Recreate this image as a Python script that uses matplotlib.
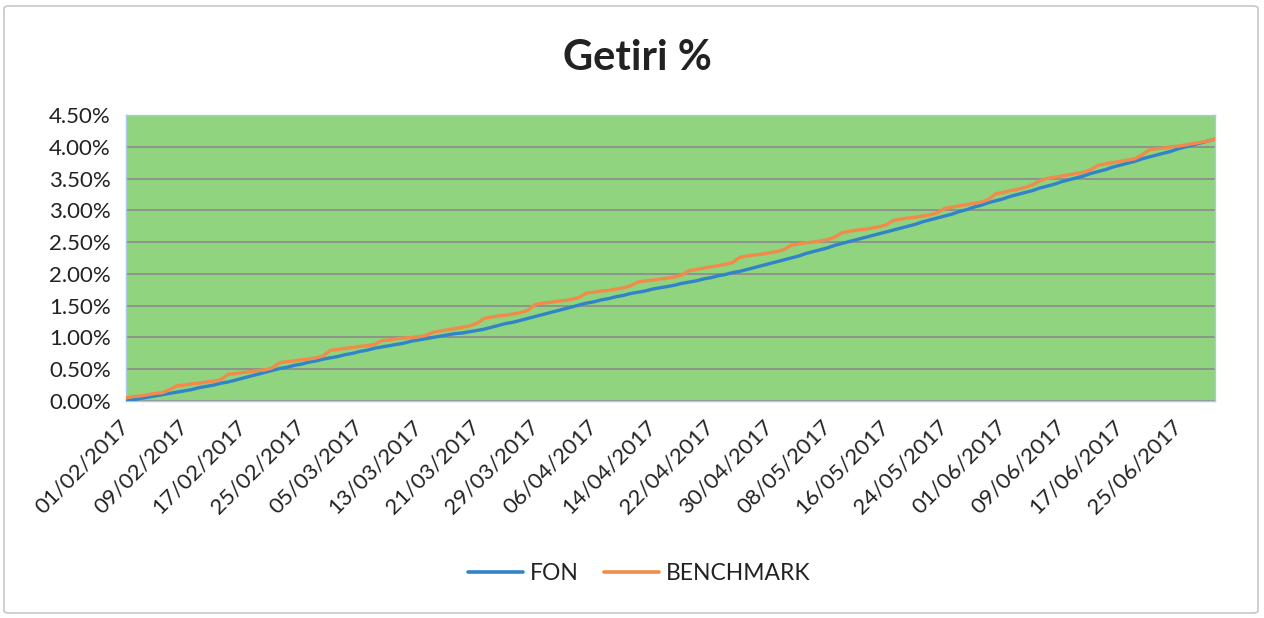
import datetime as dt
import matplotlib
matplotlib.use("Agg")
import matplotlib.pyplot as plt
from matplotlib.patches import FancyBboxPatch
from matplotlib.ticker import FuncFormatter, MultipleLocator
from matplotlib.transforms import ScaledTranslation

plt.rcParams['font.family'] = ['Lato', 'DejaVu Sans']

title = "Getiri %"
series_names = ["FON", "BENCHMARK"]
start_date = dt.date(2017, 2, 1)

# daily values in %, 01/02/2017 .. 30/06/2017
fon = [
    0.00, 0.02, 0.04, 0.06, 0.08, 0.10, 0.12,
    0.14, 0.16, 0.18, 0.21, 0.23, 0.25, 0.28,
    0.30, 0.33, 0.36, 0.39, 0.42, 0.45, 0.48,
    0.51, 0.53, 0.56, 0.58, 0.61, 0.63, 0.66,
    0.68, 0.70, 0.73, 0.75, 0.78, 0.80, 0.83,
    0.85, 0.87, 0.89, 0.91, 0.94, 0.96, 0.98,
    1.00, 1.02, 1.04, 1.06, 1.07, 1.09, 1.11,
    1.13, 1.16, 1.19, 1.22, 1.24, 1.27, 1.30,
    1.33, 1.36, 1.39, 1.42, 1.45, 1.48, 1.51,
    1.54, 1.56, 1.59, 1.61, 1.64, 1.66, 1.69,
    1.71, 1.73, 1.76, 1.78, 1.80, 1.82, 1.85,
    1.87, 1.89, 1.92, 1.94, 1.97, 1.99, 2.02,
    2.04, 2.07, 2.10, 2.13, 2.16, 2.19, 2.22,
    2.25, 2.28, 2.32, 2.35, 2.38, 2.41, 2.45,
    2.48, 2.51, 2.54, 2.57, 2.60, 2.63, 2.66,
    2.69, 2.72, 2.75, 2.78, 2.82, 2.85, 2.88,
    2.91, 2.94, 2.98, 3.01, 3.05, 3.08, 3.12,
    3.15, 3.18, 3.22, 3.25, 3.28, 3.31, 3.35,
    3.38, 3.41, 3.45, 3.48, 3.51, 3.54, 3.58,
    3.61, 3.64, 3.68, 3.71, 3.74, 3.77, 3.81,
    3.84, 3.87, 3.90, 3.93, 3.97, 4.00, 4.03,
    4.06, 4.09, 4.12,
]

benchmark = [
    0.05, 0.07, 0.08, 0.10, 0.12, 0.13, 0.18,
    0.24, 0.25, 0.27, 0.28, 0.30, 0.31, 0.34,
    0.42, 0.43, 0.45, 0.46, 0.48, 0.49, 0.52,
    0.60, 0.62, 0.63, 0.65, 0.66, 0.68, 0.71,
    0.80, 0.81, 0.83, 0.84, 0.86, 0.87, 0.89,
    0.95, 0.96, 0.98, 0.99, 1.00, 1.01, 1.03,
    1.08, 1.10, 1.12, 1.14, 1.16, 1.18, 1.22,
    1.30, 1.32, 1.34, 1.35, 1.37, 1.39, 1.43,
    1.52, 1.54, 1.55, 1.57, 1.58, 1.60, 1.63,
    1.70, 1.71, 1.73, 1.74, 1.76, 1.78, 1.81,
    1.87, 1.89, 1.90, 1.92, 1.93, 1.95, 1.98,
    2.05, 2.07, 2.09, 2.11, 2.13, 2.15, 2.18,
    2.26, 2.28, 2.30, 2.31, 2.33, 2.35, 2.38,
    2.45, 2.47, 2.49, 2.50, 2.52, 2.54, 2.58,
    2.65, 2.67, 2.69, 2.70, 2.72, 2.74, 2.77,
    2.84, 2.86, 2.88, 2.89, 2.91, 2.93, 2.96,
    3.03, 3.05, 3.07, 3.09, 3.11, 3.13, 3.17,
    3.26, 3.28, 3.31, 3.33, 3.36, 3.40, 3.46,
    3.50, 3.52, 3.54, 3.56, 3.58, 3.60, 3.64,
    3.71, 3.73, 3.75, 3.77, 3.79, 3.81, 3.87,
    3.95, 3.97, 3.98, 4.00, 4.01, 4.03, 4.05,
    4.07, 4.09, 4.12,
]

dates = [start_date + dt.timedelta(days=i) for i in range(len(fon))]
date_labels = [d.strftime("%d/%m/%Y") for d in dates]
label_step = 8

text_color = "#222222"

fig = plt.figure(figsize=(12.64, 6.18), dpi=100)
fig.patch.set_facecolor("white")

# chart area border
border = FancyBboxPatch((4 / 1264, 5 / 618), 1254 / 1264, 607 / 618,
                        boxstyle="round,pad=0,rounding_size=0.004",
                        transform=fig.transFigure, fill=False,
                        edgecolor="#c8c8c8", linewidth=1.2)
fig.patches.append(border)

ax = fig.add_axes([126 / 1264, 1 - 401 / 618, (1215 - 126) / 1264, (401 - 115) / 618])
ax.set_facecolor("#90d47f")

x = list(range(len(fon)))
ax.plot(x, fon, color="#3284c8", linewidth=2.4, label=series_names[0], zorder=3,
        solid_capstyle="round")
ax.plot(x, benchmark, color="#f18a4a", linewidth=2.4, label=series_names[1], zorder=4,
        solid_capstyle="round")

ax.set_xlim(0, len(fon) - 1)
ax.set_ylim(0, 4.5)
ax.yaxis.set_major_locator(MultipleLocator(0.5))
ax.yaxis.set_major_formatter(FuncFormatter(lambda v, p: f"{v:.2f}%"))
ax.grid(axis="y", color="#8a8a8a", linewidth=1.2, zorder=1)
ax.set_axisbelow(True)

ticks = x[::label_step]
ax.set_xticks(ticks)
ax.set_xticklabels([date_labels[i] for i in ticks], rotation=45, ha="right",
                   va="center", rotation_mode="anchor", fontsize=16, color=text_color)
shift = ScaledTranslation(3 / 100, 0, fig.dpi_scale_trans)
for lbl in ax.get_xticklabels():
    lbl.set_transform(lbl.get_transform() + shift)
ax.tick_params(axis="x", length=0, pad=16)
ax.tick_params(axis="y", length=0, pad=11, labelsize=16, labelcolor=text_color)

for s in ax.spines.values():
    s.set_color("#a9c8e8")
    s.set_linewidth(1.0)

fig.text(637 / 1264, 1 - 58 / 618, title, ha="center", va="center",
         fontsize=30, fontweight="bold", color=text_color)

leg = fig.legend(loc="center", bbox_to_anchor=(639 / 1264, 1 - 574 / 618), ncol=2,
                 frameon=False, fontsize=16.5, handlelength=2.4, columnspacing=1.1,
                 handletextpad=0.3)
for t in leg.get_texts():
    t.set_color(text_color)
for h in leg.get_lines():
    h.set_linewidth(2.6)

fig.savefig("out.png", dpi=100)
